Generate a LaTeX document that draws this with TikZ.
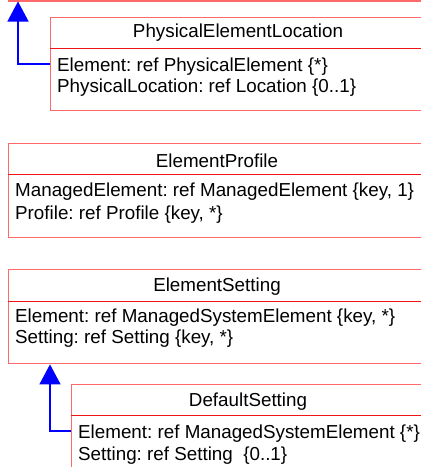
\documentclass[tikz,border=0pt]{standalone}
\usepackage{fontspec}
\setmainfont{Liberation Sans}
\usetikzlibrary{arrows.meta}
\definecolor{boxred}{RGB}{255,105,105}
\definecolor{sepred}{RGB}{240,20,20}
\definecolor{inhblue}{RGB}{0,0,255}
\tikzset{
  umlbox/.style={draw=boxred, line width=1.4pt, fill=white, inner sep=0pt, anchor=north west, rectangle},
  septext/.style={draw=sepred, line width=1pt},
  titletext/.style={inner sep=0pt, anchor=center, font=\fontsize{18.8}{21.5}\selectfont\frenchspacing},
  attrtext/.style={inner sep=0pt, anchor=west, font=\fontsize{18.8}{21.5}\selectfont\frenchspacing},
  inh/.style={draw=inhblue, line width=1.3pt, -{Triangle[width=21pt,length=20pt,fill=inhblue]}}
}
\begin{document}
\begin{tikzpicture}[x=1pt,y=-1pt]
\clip (0,0) rectangle (421,467);
\fill[white] (0,0) rectangle (421,467);
% top box (mostly outside)
\node[umlbox, minimum width=419pt, minimum height=60pt, anchor=south west] (top) at (7.5,1.5) {};
% PhysicalElementLocation
\node[umlbox, minimum width=376pt, minimum height=93pt] (pel) at (50,17) {};
\draw[septext] (50,48) -- (426,48);
\node[titletext] (pelt) at (238,33) {PhysicalElementLocation};
\node[attrtext] (pel1) at (57,67) {Element: ref PhysicalElement \{*\}};
\node[attrtext] (pel2) at (57,88) {PhysicalLocation: ref Location \{0..1\}};
% ElementProfile
\node[umlbox, minimum width=418pt, minimum height=94pt] (ep) at (8,143) {};
\draw[septext] (8,174) -- (426,174);
\node[titletext] (ept) at (217,161) {ElementProfile};
\node[attrtext] (ep1) at (15,192) {ManagedElement: ref ManagedElement \{key, 1\}};
\node[attrtext] (ep2) at (15,215) {Profile: ref Profile \{key, *\}};
% ElementSetting
\node[umlbox, minimum width=418pt, minimum height=94pt] (es) at (8,269) {};
\draw[septext] (8,301) -- (426,301);
\node[titletext] (est) at (217,287) {ElementSetting};
\node[attrtext] (es1) at (15,318) {Element: ref ManagedSystemElement \{key, *\}};
\node[attrtext] (es2) at (15,339) {Setting: ref Setting \{key, *\}};
% DefaultSetting
\node[umlbox, minimum width=355pt, minimum height=120pt] (ds) at (71,384) {};
\draw[septext] (71,415) -- (426,415);
\node[titletext] (dst) at (248,402) {DefaultSetting};
\node[attrtext] (ds1) at (78,434) {Element: ref ManagedSystemElement \{*\}};
\node[attrtext] (ds2) at (78,456) {Setting: ref Setting\ \ \{0..1\}};
% inheritance connectors
\coordinate (y1) at (0,64);
\coordinate (x1) at (18,0);
\draw[inh] (pel.west |- y1) -| (x1 |- top.south);
\coordinate (y2) at (0,431);
\coordinate (x2) at (50,0);
\draw[inh] (ds.west |- y2) -| (x2 |- es.south);
\end{tikzpicture}
\end{document}
